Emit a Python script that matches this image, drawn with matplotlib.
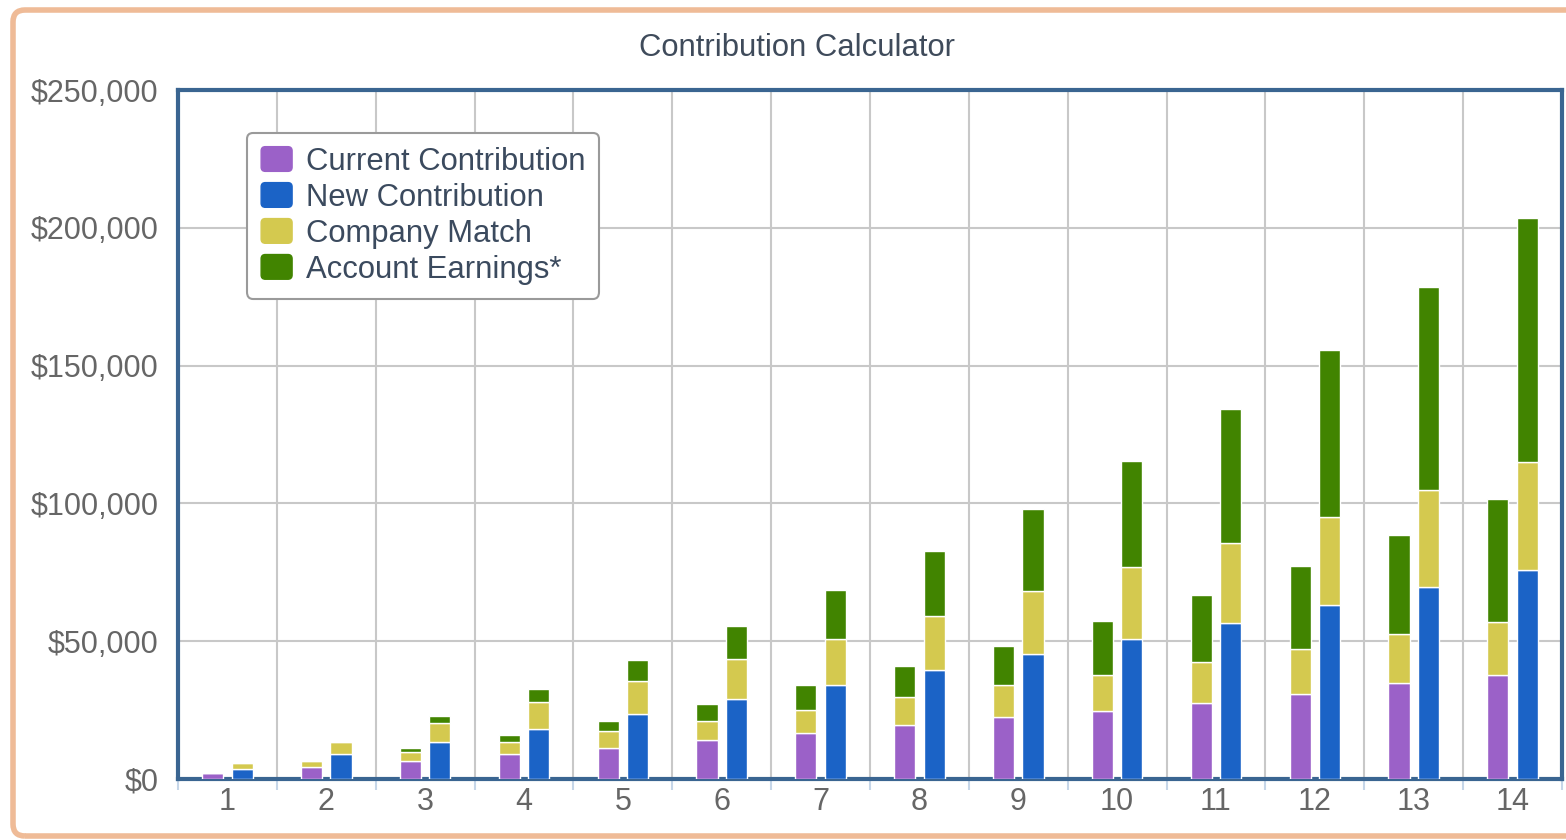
import numpy as np
import matplotlib
matplotlib.use("Agg")
import matplotlib.pyplot as plt
import matplotlib.patches as ptch
from matplotlib.legend_handler import HandlerPatch
from matplotlib.ticker import FuncFormatter, MultipleLocator, FixedLocator
from matplotlib.transforms import IdentityTransform

plt.rcParams['font.family'] = ['Liberation Sans', 'DejaVu Sans']

# data (dollars, cumulative by year)
years = list(range(1, 15))
cur_base = [2100, 4470, 6640, 8960, 11140, 14260, 16690, 19590, 22490, 24780, 27680, 30980, 34940, 37840]
cur_match = [0, 2180, 3050, 4570, 6280, 6890, 8340, 10050, 11460, 12950, 14770, 16040, 17560, 19080]
cur_earn = [0, 0, 1560, 2320, 3740, 6170, 9070, 11360, 14290, 19700, 24160, 30220, 36210, 44590]
new_base = [3500, 8960, 13420, 18140, 23470, 29020, 34210, 39440, 45350, 50650, 56700, 63050, 69760, 75860]
new_match = [2400, 4470, 7000, 9900, 12190, 14510, 16690, 19810, 22860, 26120, 29020, 32030, 35260, 39110]
new_earn = [0, 0, 2320, 4500, 7620, 12120, 17560, 23580, 29600, 38600, 48400, 60480, 73430, 88700]

labels = ['Current Contribution', 'New Contribution', 'Company Match', 'Account Earnings*']
c_purple = '#9b61c8'
c_blue = '#1b63c6'
c_yellow = '#d4c94f'
c_green = '#418400'

W, H = 1566, 840
fig = plt.figure(figsize=(W / 100, H / 100), dpi=100)
fig.patch.set_facecolor('white')

# orange rounded frame (runs off the right edge like the screenshot)
frame = ptch.FancyBboxPatch((13, 4), 1620, 826,
                            boxstyle='round,pad=0,rounding_size=12',
                            linewidth=4, edgecolor='#efbb97', facecolor='none',
                            transform=IdentityTransform(), zorder=10)
fig.patches.append(frame)

ax = fig.add_axes([178 / W, (H - 779) / H, (1562 - 178) / W, (779 - 90) / H])
ax.set_facecolor('white')

x = np.array(years)
off = 0.149
bw = 0.215

def stack(xpos, base, match, earn, base_col):
    base = np.array(base)
    match = np.array(match)
    earn = np.array(earn)
    ax.bar(xpos, base, bw, color=base_col, edgecolor='white', linewidth=1, zorder=3)
    ax.bar(xpos, match, bw, bottom=base, color=c_yellow, edgecolor='white', linewidth=1, zorder=3)
    ax.bar(xpos, earn, bw, bottom=base + match, color=c_green, edgecolor='white', linewidth=1, zorder=3)

stack(x - off, cur_base, cur_match, cur_earn, c_purple)
stack(x + off, new_base, new_match, new_earn, c_blue)

ax.set_xlim(0.5, 14.5)
ax.set_ylim(0, 250000)

ax.yaxis.set_major_locator(MultipleLocator(50000))
ax.yaxis.set_major_formatter(FuncFormatter(lambda v, p: '${:,.0f}'.format(v)))
ax.xaxis.set_major_locator(FixedLocator(years))
ax.xaxis.set_minor_locator(FixedLocator(np.arange(0.5, 15, 1.0)))

ax.grid(axis='y', which='major', color='#c8c8c8', linewidth=1.5, zorder=0)
ax.grid(axis='x', which='minor', color='#c8c8c8', linewidth=1.5, zorder=0)
ax.set_axisbelow(True)

ax.tick_params(axis='y', which='both', length=0, pad=14, labelsize=22, labelcolor='#666666')
ax.tick_params(axis='x', which='major', length=0, pad=6, labelsize=22, labelcolor='#666666')
ax.tick_params(axis='x', which='minor', length=8, width=1.5, color='#c6d6e8', direction='out')

for s in ax.spines.values():
    s.set_color('#3a6591')
    s.set_linewidth(3)

fig.text(797 / W, 1 - 48 / H, 'Contribution Calculator', ha='center', va='center',
         fontsize=22.3, color='#3f4b5b')


def rounded_square(legend, orig_handle, xdescent, ydescent, width, height, fontsize):
    return ptch.FancyBboxPatch((-xdescent, -ydescent), width, height,
                               boxstyle='round,pad=0,rounding_size=3')


handles = [ptch.Patch(facecolor=c, edgecolor=c) for c in (c_purple, c_blue, c_yellow, c_green)]
leg = ax.legend(handles, labels, loc='upper left', bbox_to_anchor=(0.05, 0.938),
                fontsize=22.3, labelcolor='#3b4a5e', frameon=True, fancybox=True,
                edgecolor='#9a9a9a', framealpha=1, labelspacing=0.19,
                handlelength=1.0, handleheight=0.85, handletextpad=0.45,
                borderpad=0.45, borderaxespad=0,
                handler_map={ptch.Patch: HandlerPatch(patch_func=rounded_square)})
leg.get_frame().set_linewidth(1.5)
leg.set_zorder(5)

fig.savefig('out.png', dpi=100, facecolor='white')
